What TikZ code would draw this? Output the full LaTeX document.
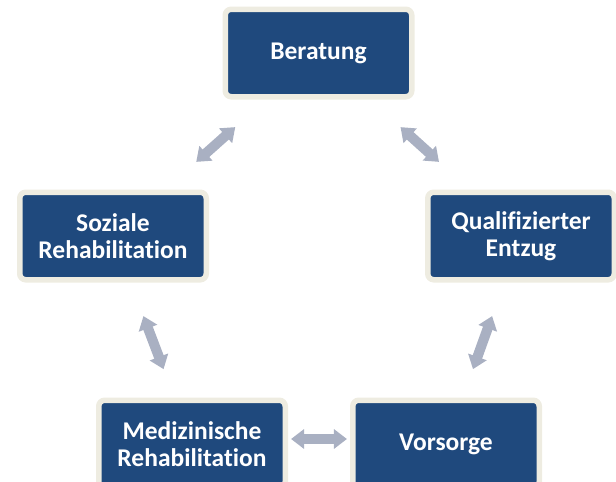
\documentclass[tikz,border=0pt]{standalone}
\usepackage{fontspec}
\setmainfont{Carlito}[Ligatures=NoCommon]
\usetikzlibrary{calc,arrows.meta}
\definecolor{boxblue}{HTML}{1F497D}
\definecolor{boxrim}{HTML}{EEECE1}
\definecolor{linkgray}{HTML}{A9B0C2}
\begin{document}
\begin{tikzpicture}[x=1pt,y=-1pt,
  stagebox/.style={draw=boxrim, line width=5.5pt, fill=boxblue, rounded corners=6pt,
    minimum width=186.5pt, minimum height=87.5pt, inner sep=0pt,
    text=white, align=center, font=\fontsize{25.5}{27.5}\selectfont\bfseries},
  link/.style={draw=linkgray, line width=10pt,
    {Triangle[width=19pt,length=13pt]}-{Triangle[width=19pt,length=13pt]}}]
  \useasboundingbox (0,0) rectangle (616,482);
  % stages of the care cycle
  \node[stagebox] (ber)  at (318.5,53) {Beratung};
  \node[stagebox] (soz)  at (113,236)  {Soziale\\Rehabilitation};
  \node[stagebox] (qual) at (521,236)  {Qualifizierter\\Entzug};
  \node[stagebox] (med)  at (192,444)  {Medizinische\\Rehabilitation};
  \node[stagebox] (vor)  at (446,444)  {Vorsorge};
  % two-way links between neighbouring stages
  \draw[link] ($(ber.center)!0.405!(soz.center)$) -- ($(ber.center)!0.595!(soz.center)$);
  \draw[link] ($(ber.center)!0.405!(qual.center)$) -- ($(ber.center)!0.595!(qual.center)$);
  \draw[link] ($(soz.center)!0.385!(med.center)$) -- ($(soz.center)!0.64!(med.center)$);
  \draw[link] ($(qual.center)!0.385!(vor.center)$) -- ($(qual.center)!0.64!(vor.center)$);
  \draw[link] ($(med.center)!0.39!(vor.center)+(0,-5)$) -- ($(med.center)!0.61!(vor.center)+(0,-5)$);
\end{tikzpicture}
\end{document}
